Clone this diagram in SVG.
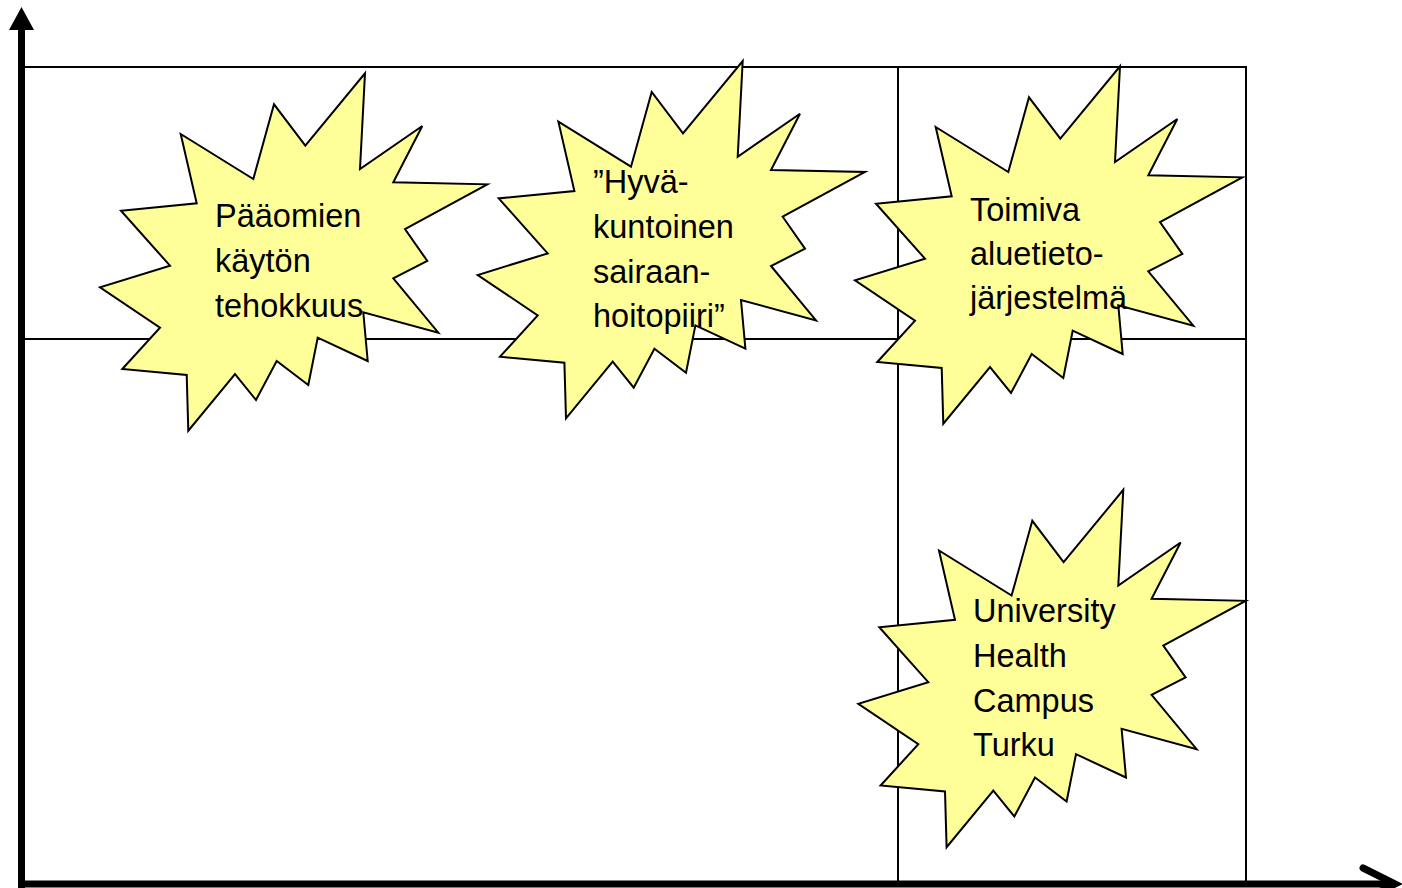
<svg xmlns="http://www.w3.org/2000/svg" width="1402" height="888" viewBox="0 0 1402 888">
<style>
.grid{fill:none;stroke:#000;stroke-width:2}
.axis{fill:none;stroke:#000;stroke-width:7}
.burst{fill:#FFFF99;stroke:#000;stroke-width:2;stroke-linejoin:miter}
.lbl{font-family:"Liberation Sans",Arial,sans-serif;font-size:32.5px;fill:#000}
</style>
<defs>
<path id="burst" d="M365,73.3 L360,169 L422.3,126 L393.3,182.3 L487.3,184.3 L405,229 L427.3,261 L393.3,278.3 L438.3,332.7 L363.3,312.3 L367.7,361 L317.7,337.7 L308.3,385 L276.7,361 L256,400 L235,374 L188.3,430.7 L186.7,375 L122.3,369 L160,327.7 L100,287.3 L170,265.7 L121,210.7 L196.7,203.3 L180.7,134 L253.3,179 L274,104.3 L305.3,145.7 Z"/>
</defs>
<rect width="1402" height="888" fill="#fff"/>
<g id="grid">
<rect class="grid" x="22" y="67" width="1224" height="817"/>
<line class="grid" x1="22" y1="339" x2="1246" y2="339"/>
<line class="grid" x1="898" y1="67" x2="898" y2="884"/>
</g>
<g id="connectors">
<line class="axis" x1="21.5" y1="888" x2="21.5" y2="28"/>
<polygon points="21.5,7 9,30 34,30" fill="#000"/>
<line class="axis" x1="18" y1="884" x2="1392" y2="884"/>
<polyline class="axis" points="1363,868 1395,884 1363,900" stroke-linecap="round"/>
</g>
<g id="node1">
<use href="#burst" class="burst"/>
<text class="lbl" x="215" y="227">Pääomien</text>
<text class="lbl" x="215" y="272">käytön</text>
<text class="lbl" x="215" y="317">tehokkuus</text>
</g>
<g id="node2">
<use href="#burst" class="burst" transform="translate(377.7,-12.3)"/>
<text class="lbl" x="593" y="193">”Hyvä-</text>
<text class="lbl" x="593" y="238">kuntoinen</text>
<text class="lbl" x="593" y="283">sairaan-</text>
<text class="lbl" x="593" y="327">hoitopiiri”</text>
</g>
<g id="node3">
<use href="#burst" class="burst" transform="translate(755,-7)"/>
<text class="lbl" x="970" y="221">Toimiva</text>
<text class="lbl" x="970" y="265">aluetieto-</text>
<text class="lbl" x="970" y="309">järjestelmä</text>
</g>
<g id="node4">
<use href="#burst" class="burst" transform="translate(758.3,416.5)"/>
<text class="lbl" x="973" y="622">University</text>
<text class="lbl" x="973" y="667">Health</text>
<text class="lbl" x="973" y="712">Campus</text>
<text class="lbl" x="973" y="756">Turku</text>
</g>
</svg>
